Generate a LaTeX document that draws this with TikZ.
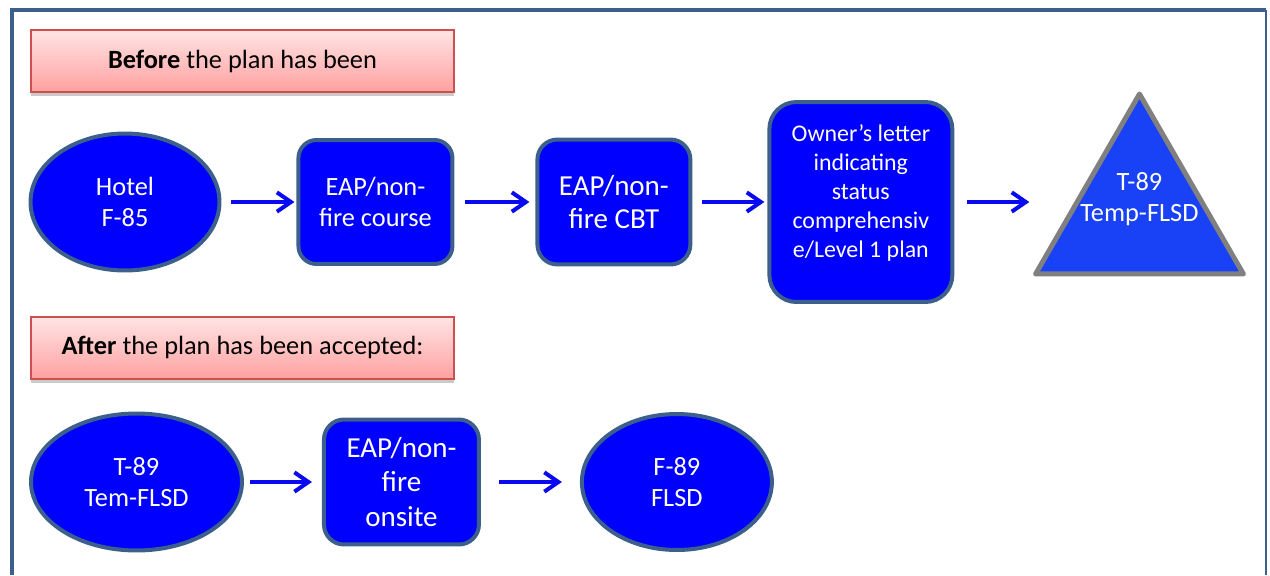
\documentclass[tikz,border=0pt]{standalone}
\usepackage{fontspec}
\setmainfont{Carlito}
\usetikzlibrary{positioning, shapes, shadows, arrows.meta}
\definecolor{nodeblue}{RGB}{0,0,255}
\definecolor{edgeblue}{RGB}{60,95,140}
\definecolor{triblue}{RGB}{25,65,245}
\definecolor{trigray}{RGB}{128,128,128}
\definecolor{arrowblue}{RGB}{10,10,240}
\definecolor{pinkline}{RGB}{205,80,80}
\definecolor{pinktop}{RGB}{255,228,228}
\definecolor{pinkbot}{RGB}{255,160,160}
\tikzset{oval/.style={draw=edgeblue,fill=nodeblue,ellipse,line width=0.08cm,text=white,align=center,inner sep=0pt,font=\fontsize{15}{18}\selectfont}}
\tikzset{stepbox/.style={draw=edgeblue,fill=nodeblue,rectangle,rounded corners=0.36cm,line width=0.08cm,text=white,align=center,inner sep=0pt,font=\fontsize{15}{18}\selectfont}}
\tikzset{banner/.style={draw=pinkline,top color=pinktop,bottom color=pinkbot,line width=0.04cm,minimum width=8.46cm,minimum height=1.24cm,drop shadow={shadow xshift=0pt,shadow yshift=-2.5pt,opacity=0.35,fill=black!60},font=\fontsize{15}{18}\selectfont}}
\tikzset{flow/.style={draw=arrowblue,line width=0.08cm,-{Straight Barb[length=8pt,width=11pt]}}}

\begin{document}
\begin{tikzpicture}[x=0.02cm,y=-0.02cm]
		\useasboundingbox (0,0) rectangle (1270,575);
		% frame
		\draw[edgeblue, line width=0.08cm] (12,575) -- (12,10) -- (1266,10);
		\draw[edgeblue, line width=0.05cm] (1266,10) -- (1266,575);
		% headings
		\node[banner] (before) at (242.5,61) {\textbf{Before} the plan has been};
		\node[banner, below = 4.46cm of before] (after) {\textbf{After} the plan has been accepted:};
		% before acceptance
		\node[oval, minimum width=3.78cm, minimum height=2.74cm] (hotel) at (125,202) {Hotel\\F-85};
		\node[stepbox, minimum width=3.08cm, minimum height=2.48cm, right = 1.5cm of hotel] (course) {EAP/non-\\fire course};
		\node[stepbox, minimum width=3.06cm, minimum height=2.50cm, rounded corners=0.4cm, font=\fontsize{16.5}{19}\selectfont, right = 1.62cm of course] (cbt) {EAP/non-\\fire CBT};
		\node[stepbox, minimum width=3.66cm, minimum height=4.00cm, rounded corners=0.54cm, font=\fontsize{13.6}{16.6}\selectfont, right = 1.5cm of cbt] (owner) {Owner’s letter\\indicating\\status\\comprehensiv\\e/Level 1 plan\\[-4pt]\mbox{}};
		\node[regular polygon, regular polygon sides=3, draw=trigray, fill=triblue, line width=0.1cm, line join=round, inner sep=0pt, minimum size=4.8cm, right = 2.26cm of owner, yshift=-0.24cm,
			label={[text=white, align=center, yshift=0.3cm, font=\fontsize{15}{18}\selectfont]center:T-89\\Temp-FLSD}] (t89) {};
		% after acceptance
		\node[oval, minimum width=4.22cm, minimum height=2.74cm] (tem89) at (136.5,482) {T-89\\Tem-FLSD};
		\node[stepbox, minimum width=3.10cm, minimum height=2.50cm, rounded corners=0.4cm, font=\fontsize{16.5}{19.6}\selectfont, right = 1.56cm of tem89] (onsite) {EAP/non-\\fire\\onsite};
		\node[oval, minimum width=3.80cm, minimum height=2.72cm, right = 1.98cm of onsite] (f89) {F-89\\FLSD};
		% arrows
		\draw[flow, shorten <=0.2cm, shorten >=0.04cm] (hotel) -- (course);
		\draw[flow, shorten <=0.22cm, shorten >=0.12cm] (course) -- (cbt);
		\draw[flow, shorten <=0.2cm, shorten >=0.06cm] (cbt) -- (owner);
		\draw[flow, shorten <=0.26cm, shorten >=0.76cm] (owner) -- (owner -| t89.west);
		\draw[flow, shorten <=0.12cm, shorten >=0.2cm] (tem89) -- (onsite);
		\draw[flow, shorten <=0.36cm, shorten >=0.36cm] (onsite) -- (f89);
	\end{tikzpicture}
\end{document}
